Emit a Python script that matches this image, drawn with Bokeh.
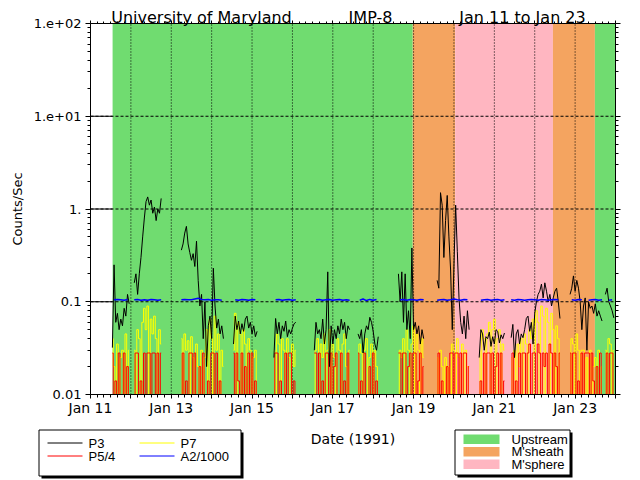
import numpy as np
from bokeh.plotting import figure
from bokeh.models import FixedTicker, LinearAxis, LogAxis, Range1d, ColumnDataSource
from bokeh.core.properties import value
from bokeh.embed import file_html
from bokeh.resources import INLINE

N = None

# ---------------- data (hourly samples from Jan 11 00:00 UT) ----------------
p3 = [
    N, N, N, N, N, N, N, N, N, N, N, N,
    N, 0.032, 0.25, 0.06, 0.075, 0.05, 0.065, 0.055, 0.085, 0.07, 0.12, 0.095,
    N, N, 0.16, 0.2, 0.12, 0.2, 0.3, 0.5, 0.8, 1.2, 1.35, 1.1,
    1.25, 0.9, 1.05, 0.75, 1.0, 0.9, 1.3, N, N, N, N, N,
    N, N, N, N, N, N, 0.36, 0.42, 0.55, 0.65, 0.42, 0.34,
    0.28, 0.33, 0.24, 0.45, 0.17, 0.09, 0.12, 0.04, 0.1, 0.02, 0.055, 0.07,
    0.04, 0.23, 0.09, 0.052, 0.065, 0.045, 0.055, 0.04, N, N, N, N,
    N, 0.035, 0.07, 0.05, 0.062, 0.045, 0.058, 0.048, 0.065, 0.07, 0.052, 0.06,
    0.045, 0.055, 0.042, 0.048, N, N, N, N, N, N, N, N,
    N, 0.025, 0.066, 0.045, 0.06, 0.04, 0.055, 0.048, 0.062, 0.042, 0.05, 0.045,
    0.052, 0.058, 0.06, N, N, N, N, N, N, N, N, N,
    N, 0.03, 0.06, 0.045, 0.05, 0.04, 0.065, 0.035, 0.05, 0.21, 0.02, 0.055,
    0.035, 0.05, 0.04, 0.055, 0.045, 0.065, 0.05, 0.06, 0.04, 0.055, 0.05, N,
    N, N, N, 0.045, 0.04, 0.05, 0.028, 0.045, 0.055, 0.05, 0.068, 0.06,
    0.048, 0.035, 0.03, 0.042, N, N, N, N, N, N, N, N,
    N, N, N, 0.2, 0.1, 0.21, 0.06, 0.2, 0.05, 0.08, 0.04, 0.38,
    0.05, 0.06, 0.045, 0.055, 0.035, 0.05, 0.04, N, N, N, N, N,
    N, N, 0.17, 0.14, 1.5, 1.1, 0.3, 0.75, 1.4, 0.5, 0.22, 0.05,
    0.25, 1.1, 0.35, 0.11, 0.06, 0.045, 0.07, 0.04, 0.08, 0.05, N, N,
    N, N, N, 0.025, 0.05, 0.045, 0.03, 0.042, 0.04, 0.047, 0.033, 0.042,
    0.035, 0.05, 0.048, 0.036, 0.044, 0.04, 0.046, N, N, N, 0.041, 0.057,
    0.025, 0.045, 0.05, 0.035, 0.045, 0.041, 0.05, 0.066, 0.07, 0.048, 0.06, 0.035,
    0.075, 0.1, 0.12, 0.13, 0.155, 0.11, 0.16, 0.13, 0.1, 0.12, 0.09, 0.11,
    0.13, 0.14, 0.1, 0.066, N, N, N, N, N, 0.12, 0.14, 0.19,
    0.13, 0.17, 0.14, 0.1, 0.05, 0.09, 0.11, 0.03, 0.1, 0.085, 0.09, 0.075,
    0.095, 0.07, 0.08, 0.07, 0.062, N, 0.12, 0.14, 0.1, 0.09, 0.08, 0.067,
]

# 0.001 = below the bottom of the plot
p5_4 = [
    N, N, N, N, N, N, N, N, N, N, N, N,
    N, 0.028, 0.001, 0.014, 0.001, 0.028, 0.001, 0.001, 0.028, 0.001, 0.02, 0.001,
    N, N, 0.001, 0.028, 0.028, 0.001, 0.014, 0.001, 0.028, 0.001, 0.028, 0.028,
    0.001, 0.028, 0.028, 0.001, 0.028, 0.001, 0.028, N, N, N, N, N,
    N, N, N, N, N, N, 0.001, 0.028, 0.001, 0.014, 0.001, 0.028,
    0.028, 0.001, 0.028, 0.001, 0.001, 0.02, 0.001, 0.028, 0.001, 0.001, 0.014, 0.001,
    0.028, 0.028, 0.001, 0.028, 0.001, 0.014, 0.001, 0.001, N, N, N, N,
    N, 0.028, 0.001, 0.028, 0.014, 0.001, 0.028, 0.001, 0.02, 0.001, 0.028, 0.001,
    0.028, 0.001, 0.014, 0.001, N, N, N, N, N, N, N, N,
    N, 0.001, 0.028, 0.028, 0.001, 0.014, 0.001, 0.001, 0.028, 0.001, 0.028, 0.028,
    0.001, 0.014, 0.001, N, N, N, N, N, N, N, N, N,
    N, 0.028, 0.028, 0.001, 0.028, 0.001, 0.014, 0.001, 0.028, 0.028, 0.001, 0.028,
    0.001, 0.02, 0.028, 0.001, 0.001, 0.028, 0.001, 0.014, 0.001, 0.028, 0.001, N,
    N, N, N, 0.028, 0.001, 0.014, 0.001, 0.028, 0.001, 0.001, 0.02, 0.001,
    0.028, 0.001, 0.014, 0.001, N, N, N, N, N, N, N, N,
    N, N, N, 0.028, 0.028, 0.001, 0.028, 0.028, 0.001, 0.02, 0.028, 0.001,
    0.028, 0.028, 0.001, 0.014, 0.028, 0.001, 0.02, N, N, N, N, N,
    N, N, 0.001, 0.028, 0.001, 0.014, 0.001, 0.001, 0.02, 0.001, 0.028, 0.028,
    0.001, 0.028, 0.028, 0.001, 0.028, 0.001, 0.028, 0.028, 0.001, 0.02, N, N,
    N, N, N, 0.001, 0.014, 0.001, 0.028, 0.001, 0.028, 0.028, 0.001, 0.028,
    0.001, 0.02, 0.028, 0.001, 0.028, 0.001, 0.014, N, N, N, 0.001, 0.028,
    0.001, 0.014, 0.001, 0.028, 0.001, 0.028, 0.028, 0.001, 0.028, 0.035, 0.001, 0.028,
    0.028, 0.001, 0.035, 0.028, 0.001, 0.028, 0.02, 0.028, 0.001, 0.035, 0.028, 0.001,
    0.028, 0.02, 0.001, 0.028, N, N, N, N, N, 0.028, 0.001, 0.028,
    0.028, 0.001, 0.014, 0.001, 0.028, 0.001, 0.028, 0.028, 0.028, 0.001, 0.028, 0.014,
    0.001, 0.02, 0.001, 0.028, 0.001, N, 0.001, 0.028, 0.001, 0.028, 0.028, 0.001,
]

p7 = [
    N, N, N, N, N, N, N, N, N, N, N, N,
    N, 0.04, 0.02, 0.001, 0.035, 0.001, 0.025, 0.03, 0.001, 0.045, 0.001, 0.03,
    N, N, 0.03, 0.001, 0.05, 0.04, 0.001, 0.06, 0.085, 0.05, 0.09, 0.001,
    0.065, 0.045, 0.07, 0.04, 0.001, 0.05, 0.035, N, N, N, N, N,
    N, N, N, N, N, N, 0.04, 0.001, 0.045, 0.03, 0.038, 0.001,
    0.042, 0.025, 0.001, 0.035, 0.02, 0.001, 0.03, 0.001, 0.025, 0.05, 0.001, 0.065,
    0.04, 0.001, 0.07, 0.03, 0.045, 0.001, 0.03, 0.02, N, N, N, N,
    N, 0.03, 0.075, 0.001, 0.06, 0.045, 0.001, 0.05, 0.035, 0.001, 0.04, 0.03,
    0.001, 0.025, 0.03, 0.001, N, N, N, N, N, N, N, N,
    N, 0.03, 0.001, 0.045, 0.035, 0.001, 0.04, 0.03, 0.001, 0.04, 0.025, 0.001,
    0.035, 0.02, 0.03, N, N, N, N, N, N, N, N, N,
    N, 0.001, 0.03, 0.04, 0.001, 0.035, 0.025, 0.045, 0.001, 0.03, 0.05, 0.001,
    0.035, 0.025, 0.001, 0.04, 0.03, 0.001, 0.035, 0.045, 0.02, 0.001, 0.03, N,
    N, N, N, 0.001, 0.035, 0.028, 0.001, 0.03, 0.04, 0.001, 0.025, 0.035,
    0.001, 0.03, 0.02, 0.001, N, N, N, N, N, N, N, N,
    N, N, N, 0.001, 0.03, 0.025, 0.04, 0.001, 0.05, 0.03, 0.001, 0.035,
    0.055, 0.001, 0.045, 0.03, 0.001, 0.04, 0.025, N, N, N, N, N,
    N, N, 0.025, 0.001, 0.03, 0.02, 0.001, 0.025, 0.001, 0.02, 0.001, 0.035,
    0.03, 0.001, 0.04, 0.025, 0.001, 0.035, 0.001, 0.03, 0.02, 0.001, N, N,
    N, N, N, 0.03, 0.001, 0.05, 0.04, 0.001, 0.045, 0.06, 0.001, 0.05,
    0.065, 0.001, 0.04, 0.05, 0.001, 0.035, 0.03, N, N, N, 0.025, 0.001,
    0.03, 0.001, 0.035, 0.02, 0.04, 0.001, 0.045, 0.035, 0.001, 0.05, 0.04, 0.065,
    0.001, 0.08, 0.06, 0.001, 0.09, 0.07, 0.001, 0.085, 0.06, 0.001, 0.075, 0.05,
    0.001, 0.055, 0.04, 0.001, N, N, N, N, N, 0.001, 0.04, 0.035,
    0.001, 0.045, 0.03, 0.001, 0.03, 0.03, 0.001, 0.025, 0.001, 0.03, 0.001, 0.02,
    0.025, 0.001, 0.03, 0.001, 0.02, N, 0.03, 0.001, 0.04, 0.035, 0.001, 0.03,
]

# A2/1000, one sample every 2 hours from Jan 11 00:00 UT
a2_1000 = [
    N, N, N, N, N, N, N, 0.105, 0.106, 0.105, 0.104, 0.106,
    N, 0.105, 0.106, 0.104, 0.105, 0.104, 0.106, 0.105, 0.104, 0.105, N, N,
    N, N, N, 0.105, 0.106, 0.105, 0.105, 0.107, 0.109, 0.106, 0.105, 0.106,
    0.104, 0.105, 0.105, 0.104, N, N, N, 0.105, 0.104, 0.106, 0.105, 0.104,
    0.106, 0.105, N, N, N, N, N, 0.105, 0.106, 0.104, 0.105, 0.106,
    0.104, 0.105, N, N, N, N, N, 0.105, 0.106, 0.104, 0.105, 0.106,
    0.104, 0.105, 0.106, 0.104, 0.105, 0.104, N, N, 0.104, 0.107, 0.103, 0.106,
    0.104, 0.106, N, N, N, N, N, N, 0.105, 0.106, 0.104, 0.106,
    0.105, 0.104, 0.106, 0.105, N, N, N, 0.104, 0.105, 0.106, 0.104, 0.105,
    0.107, 0.105, 0.104, 0.106, 0.105, N, N, N, 0.104, 0.105, 0.106, 0.104,
    0.105, 0.106, 0.104, 0.105, N, 0.105, 0.104, 0.106, 0.105, 0.104, 0.105, 0.106,
    0.105, 0.104, 0.106, 0.105, 0.104, 0.105, 0.106, 0.105, N, N, N, 0.105,
    0.104, 0.106, 0.105, N, 0.104, 0.105, 0.106, 0.104, 0.105, N, 0.104, 0.105,
]

# plasma regions (days after Jan 11 00:00 UT)
region_start = [0.547, 7.98, 9.03, 11.45, 12.49]
region_end = [7.98, 9.03, 11.45, 12.49, 13.0]
region_name = ["Upstream", "M'sheath", "M'sphere", "M'sheath", "Upstream"]
region_colors = {"Upstream": "#70dc70", "M'sheath": "#f4a460", "M'sphere": "#ffb6c1"}
legend_regions = ["Upstream", "M'sheath", "M'sphere"]

x_tick_labels = ["Jan 11", "Jan 13", "Jan 15", "Jan 17", "Jan 19", "Jan 21", "Jan 23"]
y_ticks = [0.01, 0.1, 1, 10, 100]
y_tick_labels = ["0.01", "0.1", "1.", "1.e+01", "1.e+02"]

series_names = ["P3", "P5/4", "P7", "A2/1000"]
series_colors = ["black", "#ff0000", "#ffff00", "#0000ff"]

title_parts = ["University of Maryland", "IMP-8", "Jan 11 to Jan 23"]

assert len(p3) == len(p5_4) == len(p7) == 312 and len(a2_1000) == 156

X0, X1 = 0.0, 13.0          # x extent of the plot box (days)
Y0, Y1 = 0.01, 100.0        # y extent of the plot box

t_hr = np.arange(len(p3)) / 24.0
t_2hr = np.arange(len(a2_1000)) * 2 / 24.0
to_arr = lambda v: np.array(v, dtype=float)
floor = lambda v: np.clip(to_arr(v), Y0, None)   # traces drop to the bottom of the box

# ---------------- geometry: plot box inside a 640x480 canvas ----------------
W, H = 640, 480
BOX_L, BOX_R, BOX_T, BOX_B = 90, 615, 23, 394
ppd = (BOX_R - BOX_L) / (X1 - X0)                      # pixels per day
ppdec = (BOX_B - BOX_T) / np.log10(Y1 / Y0)            # pixels per decade
x_start = X0 - BOX_L / ppd
x_end = X1 + (W - BOX_R) / ppd
y_end = Y1 * 10 ** (BOX_T / ppdec)
y_start = Y0 / 10 ** ((H - BOX_B) / ppdec)

def PX(px):
    return X0 + (px - BOX_L) / ppd

def PY(py):
    return Y1 * 10 ** (-(py - BOX_T) / ppdec)

FONT = "DejaVu Sans"
LFONT = "Liberation Sans"

p = figure(width=W, height=H, x_range=Range1d(x_start, x_end), y_range=Range1d(y_start, y_end),
           y_axis_type="log", output_backend="svg", toolbar_location=None,
           min_border=0, min_border_left=0, min_border_right=0,
           min_border_top=0, min_border_bottom=0, x_axis_location=None, y_axis_location=None)
p.outline_line_color = None
p.background_fill_color = "white"
p.border_fill_color = "white"
p.grid.visible = False

# region bands
band_src = ColumnDataSource(dict(left=region_start, right=region_end,
                                 color=[region_colors[n] for n in region_name]))
p.quad(left="left", right="right", bottom=Y0, top=Y1, fill_color="color",
       line_color=None, source=band_src, level="image")

# grid
grid_days = list(range(1, 13))
grid_decades = [0.1, 1, 10]
p.segment(x0=X0, x1=region_start[0], y0=grid_decades, y1=grid_decades,
          line_color="black", line_width=1, level="underlay")
p.segment(x0=X0, x1=X1, y0=grid_decades, y1=grid_decades,
          line_color="black", line_width=1, line_dash="3 2", level="underlay")
p.segment(x0=grid_days, x1=grid_days, y0=Y0, y1=Y1,
          line_color="black", line_width=1, line_dash="1 2", level="underlay")

# data
p.step(t_hr, floor(p7), mode="center", line_color=series_colors[2], line_width=1)
p.step(t_hr, floor(p5_4), mode="center", line_color=series_colors[1], line_width=1)
p.line(t_hr, to_arr(p3), line_color=series_colors[0], line_width=1)
p.line(t_2hr, to_arr(a2_1000), line_color=series_colors[3], line_width=1.5)

# axes (fixed on the edges of the plot box)
day_ticks = list(range(14))
minor_x = [i / 6 for i in range(13 * 6 + 1)]
minor_y = [m * 10.0 ** e for e in range(-2, 2) for m in range(2, 10)]


def style_axis(ax):
    ax.axis_line_color = "black"
    ax.axis_line_width = 1
    ax.major_tick_line_color = "black"
    ax.minor_tick_line_color = "black"
    ax.major_tick_in = 0
    ax.major_tick_out = 5
    ax.minor_tick_in = 0
    ax.minor_tick_out = 3
    ax.major_label_text_font = FONT
    ax.major_label_text_color = "black"
    ax.axis_label_text_font = FONT
    ax.axis_label_text_font_style = "normal"
    ax.axis_label_text_color = "black"


xa = LinearAxis(fixed_location=Y0, bounds=(X0, X1),
                ticker=FixedTicker(ticks=day_ticks, minor_ticks=minor_x),
                major_label_overrides={d: (x_tick_labels[d // 2] if d % 2 == 0 else "")
                                       for d in day_ticks})
style_axis(xa)
xa.major_tick_out = 4
xa.major_label_text_font_size = "14px"
xa.major_label_standoff = 1
xa.axis_label = "Date (1991)"
xa.axis_label_text_font_size = "14px"
xa.axis_label_standoff = 12
p.add_layout(xa, "below")

ya = LogAxis(fixed_location=X0, bounds=(Y0, Y1),
             ticker=FixedTicker(ticks=y_ticks, minor_ticks=minor_y),
             major_label_overrides=dict(zip(y_ticks, y_tick_labels)))
style_axis(ya)
ya.major_label_text_font_size = "13px"
ya.major_label_standoff = 4
ya.axis_label = "Counts/Sec"
ya.axis_label_text_font_size = "13px"
ya.axis_label_standoff = 6
p.add_layout(ya, "left")

top = LinearAxis(fixed_location=Y1, bounds=(X0, X1),
                 ticker=FixedTicker(ticks=day_ticks, minor_ticks=minor_x),
                 major_label_overrides={d: "" for d in day_ticks})
style_axis(top)
top.major_tick_out = 3
top.minor_tick_out = 2
top.major_label_text_font_size = "0px"
p.add_layout(top, "above")

right = LogAxis(fixed_location=X1, bounds=(Y0, Y1),
                ticker=FixedTicker(ticks=y_ticks, minor_ticks=minor_y),
                major_label_overrides={v: "" for v in y_ticks})
style_axis(right)
right.major_label_text_font_size = "0px"
p.add_layout(right, "right")

# ---------------- title ----------------
p.text(x=[PX(201), PX(370), PX(522)], y=[PY(16.5)] * 3, text=title_parts,
       text_font=value(FONT), text_font_size="16px", text_align="center",
       text_baseline="alphabetic", text_color="black")

# ---------------- legends (drawn in pixel positions below the plot) ----------------
def pquad(l, r, t, b, **kw):
    p.quad(left=[PX(v) for v in l], right=[PX(v) for v in r],
           top=[PY(v) for v in t], bottom=[PY(v) for v in b], **kw)

pquad([41, 457], [243, 572], [432, 432], [478, 477], fill_color="black", line_color=None)
pquad([38.5, 454.5], [240.5, 569.5], [429.5, 429.5], [475.5, 474.5],
      fill_color="white", line_color="black", line_width=1)

sx = [47, 47, 139, 139]
sy = [442.5, 455.5, 442.5, 455.5]
p.segment(x0=[PX(v) for v in sx], x1=[PX(v + 35) for v in sx],
          y0=[PY(v) for v in sy], y1=[PY(v) for v in sy],
          line_color=series_colors, line_width=1)
p.text(x=[PX(v + 41) for v in sx], y=[PY(v) for v in sy], text=series_names,
       text_font=value(LFONT), text_font_size="13px", text_align="left",
       text_baseline="middle", text_color="black")

ry = [434, 446.5, 459]
pquad([463] * 3, [499] * 3, ry, [v + 9.5 for v in ry],
      fill_color=[region_colors[n] for n in legend_regions], line_color=None)
p.text(x=[PX(511)] * 3, y=[PY(v + 4.75) for v in ry], text=legend_regions,
       text_font=value(LFONT), text_font_size="13px", text_align="left",
       text_baseline="middle", text_color="black")

open("out.html", "w").write(file_html(p, INLINE))
